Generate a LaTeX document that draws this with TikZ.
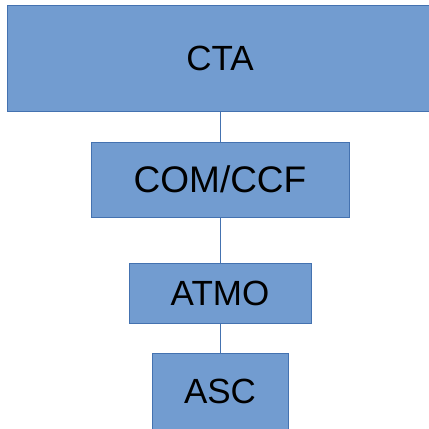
\documentclass[tikz,border=0pt]{standalone}
\usepackage{fontspec}
\setmainfont{Liberation Sans}
\definecolor{boxfill}{RGB}{114,156,208}
\definecolor{boxline}{RGB}{68,114,176}
\begin{document}
\begin{tikzpicture}[x=1pt,y=-1pt]
  \tikzstyle{every node}=[font=\fontsize{35}{40}\selectfont]
  \tikzstyle{unit}=[draw=boxline,fill=boxfill,line width=0.9pt,inner sep=0pt]
 \useasboundingbox (0,0) rectangle (429,429);
 \node[unit,minimum width=425pt,minimum height=106pt] (cta) at (220,58) {CTA};
 \node[unit,minimum width=258pt,minimum height=75pt,font=\fontsize{37}{40}\selectfont] (com) at (220,179.5) {COM/CCF};
 \node[unit,minimum width=182pt,minimum height=60pt] (atmo) at (220,293) {ATMO};
 \node[unit,minimum width=136pt,minimum height=76pt] (asc) at (220,391) {ASC};

 \draw [boxline,line width=0.9pt] (cta) -- (com);
 \draw [boxline,line width=0.9pt] (com) -- (atmo);
 \draw [boxline,line width=0.9pt] (atmo) -- (asc);
\end{tikzpicture}
\end{document}
